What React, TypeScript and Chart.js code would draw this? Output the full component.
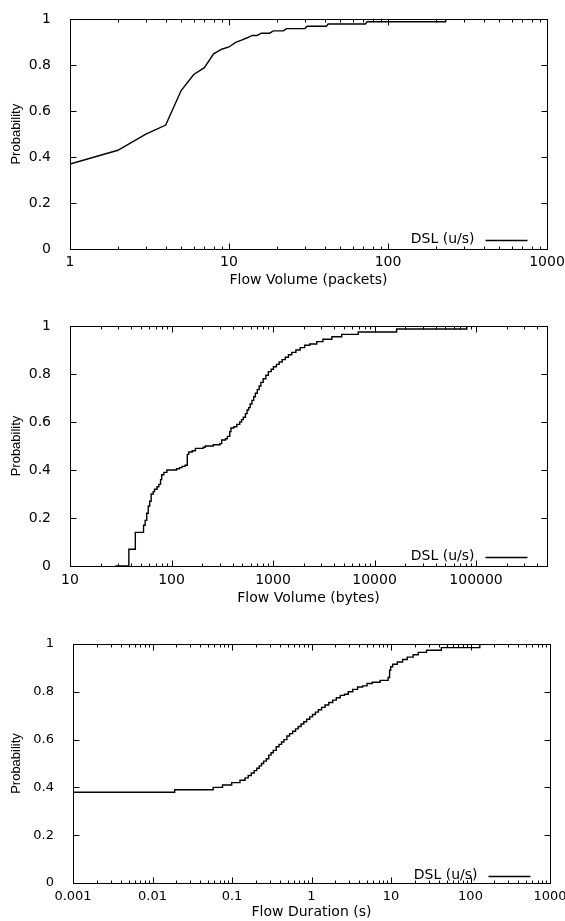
import { useEffect, useRef } from "react";
import { Chart, registerables } from "chart.js";

Chart.register(...registerables);

// ---- Flow volume in packets (upstream DSL), empirical CDF ----
const packetCounts = [1, 2, 3, 4, 5, 6, 7, 8, 9, 10, 11, 12, 13, 14, 15, 16, 18, 19, 22, 23, 30, 31, 41, 42, 72, 74, 230, 232];
const packetProb = [0.37, 0.43, 0.5, 0.54, 0.69, 0.76, 0.79, 0.85, 0.87, 0.88, 0.9, 0.91, 0.92, 0.93, 0.93, 0.94, 0.94, 0.95, 0.95, 0.96, 0.96, 0.97, 0.97, 0.98, 0.98, 0.99, 0.99, 1.0];

// ---- Flow volume in bytes, step CDF ----
const byteCounts = [28, 38, 44, 53, 55, 57, 59, 61, 63, 66, 68, 72, 75, 78, 80, 84, 90, 112, 120, 127, 136, 143, 148, 160, 172, 205, 215, 258, 300, 312, 340, 355, 375, 385, 410, 440, 470, 490, 510, 535, 555, 575, 595, 620, 645, 670, 700, 730, 760, 800, 850, 900, 960, 1010, 1080, 1150, 1230, 1320, 1420, 1530, 1680, 1850, 2050, 2300, 2700, 3100, 3800, 4750, 6900, 16500, 81000];
const byteProb = [0, 0.07, 0.14, 0.17, 0.19, 0.22, 0.25, 0.27, 0.3, 0.31, 0.32, 0.33, 0.34, 0.36, 0.38, 0.39, 0.4, 0.405, 0.41, 0.415, 0.42, 0.465, 0.475, 0.48, 0.49, 0.495, 0.5, 0.505, 0.51, 0.525, 0.53, 0.54, 0.56, 0.575, 0.58, 0.59, 0.6, 0.61, 0.62, 0.635, 0.65, 0.66, 0.675, 0.69, 0.705, 0.72, 0.735, 0.75, 0.765, 0.78, 0.795, 0.81, 0.82, 0.83, 0.84, 0.85, 0.86, 0.87, 0.88, 0.89, 0.9, 0.91, 0.92, 0.925, 0.935, 0.945, 0.955, 0.965, 0.975, 0.9875, 1.0];

// ---- Flow duration in seconds, step CDF ----
const durations = [0.001, 0.019, 0.058, 0.076, 0.099, 0.126, 0.146, 0.16, 0.175, 0.19, 0.205, 0.22, 0.235, 0.25, 0.27, 0.29, 0.31, 0.33, 0.36, 0.39, 0.42, 0.45, 0.49, 0.53, 0.58, 0.63, 0.68, 0.74, 0.8, 0.87, 0.95, 1.03, 1.12, 1.22, 1.34, 1.48, 1.65, 1.85, 2.05, 2.3, 2.6, 2.9, 3.3, 3.8, 4.4, 5.0, 5.8, 7.3, 9.2, 9.6, 9.9, 10.5, 12, 14, 16, 19, 22, 28, 43, 131];
const durationProb = [0.38, 0.39, 0.4, 0.41, 0.42, 0.43, 0.44, 0.45, 0.46, 0.47, 0.48, 0.49, 0.5, 0.51, 0.52, 0.535, 0.545, 0.555, 0.57, 0.58, 0.59, 0.6, 0.615, 0.625, 0.635, 0.645, 0.655, 0.665, 0.675, 0.685, 0.695, 0.705, 0.715, 0.725, 0.735, 0.745, 0.755, 0.765, 0.775, 0.785, 0.79, 0.8, 0.81, 0.82, 0.825, 0.835, 0.84, 0.848, 0.86, 0.89, 0.905, 0.915, 0.925, 0.935, 0.945, 0.955, 0.965, 0.974, 0.985, 1.0];

// ---- Axis tick labels ----
const packetTicks = [1, 10, 100, 1000];
const byteTicks = [10, 100, 1000, 10000, 100000];
const durationTicks = [0.001, 0.01, 0.1, 1, 10, 100, 1000];
const probTicks = [0, 0.2, 0.4, 0.6, 0.8, 1];

const seriesLabel = "DSL (u/s)";
const yTitle = "Probability";

const WIDTH = 565;
const TICK_FONT = "'DejaVu Sans', sans-serif";

// Frame with inward ticks on all four sides, plus a gnuplot-style key.
const framePlugin = {
  id: "frameKey",
  afterDatasetsDraw(chart: any, _args: any, opts: any) {
    const { ctx, chartArea: a, scales } = chart;
    const x = scales.x;
    const y = scales.y;
    const left = Math.round(a.left) + 0.5;
    const right = Math.round(a.right) + 0.5;
    const top = Math.round(a.top) + 0.5;
    const bottom = Math.round(a.bottom) + 0.5;
    ctx.save();
    ctx.strokeStyle = "#000";
    ctx.lineWidth = 1;
    ctx.beginPath();
    // log-axis ticks: long at decades, short in between
    const lo = Math.floor(Math.log10(x.min));
    const hi = Math.ceil(Math.log10(x.max));
    for (let e = lo; e <= hi; e++) {
      for (let k = 1; k <= 9; k++) {
        const v = k * Math.pow(10, e);
        if (v < x.min * 0.999 || v > x.max * 1.001) continue;
        const px = Math.round(x.getPixelForValue(v)) + 0.5;
        const len = k === 1 ? 6 : 3;
        ctx.moveTo(px, bottom);
        ctx.lineTo(px, bottom - len);
        ctx.moveTo(px, top);
        ctx.lineTo(px, top + len);
      }
    }
    for (const v of probTicks) {
      const py = Math.round(y.getPixelForValue(v)) + 0.5;
      ctx.moveTo(left, py);
      ctx.lineTo(left + 6, py);
      ctx.moveTo(right, py);
      ctx.lineTo(right - 6, py);
    }
    ctx.stroke();
    ctx.strokeRect(left, top, right - left, bottom - top);

    // key
    const ds = chart.data.datasets[0];
    const ky = bottom - (opts.keyOffset ?? 10);
    ctx.fillStyle = "#000";
    ctx.font = `14px ${TICK_FONT}`;
    ctx.textAlign = "right";
    ctx.textBaseline = "middle";
    ctx.fillText(ds.label, right - 73, ky);
    ctx.beginPath();
    ctx.lineWidth = ds.borderWidth;
    ctx.strokeStyle = ds.borderColor;
    ctx.moveTo(right - 62, Math.round(ky) + 0.5);
    ctx.lineTo(right - 20, Math.round(ky) + 0.5);
    ctx.stroke();
    ctx.restore();
  },
};

type Spec = {
  xs: number[];
  ys: number[];
  xTicks: number[];
  xMin: number;
  xMax: number;
  stepped: boolean;
  xTitle: string;
  height: number;
  plotLeft: number;
  plotRight: number;
  plotTop: number;
  plotBottom: number;
  tickSize: number;
  xLabelPad: number;
  xTitlePad: number;
  keyOffset: number;
};

function CdfPanel({ spec }: { spec: Spec }) {
  const ref = useRef<HTMLCanvasElement | null>(null);

  useEffect(() => {
    if (!ref.current) return;
    const s = spec;
    const chart = new Chart(ref.current, {
      type: "line",
      data: {
        datasets: [
          {
            label: seriesLabel,
            data: s.xs.map((v, i) => ({ x: v, y: s.ys[i] })),
            borderColor: "#000",
            borderWidth: 1.4,
            pointRadius: 0,
            tension: 0,
            stepped: s.stepped ? "before" : false,
            fill: false,
          },
        ],
      },
      options: {
        animation: false,
        responsive: false,
        devicePixelRatio: 1,
        events: [],
        layout: {
          padding: { left: 0, right: WIDTH - s.plotRight, top: s.plotTop, bottom: 0 },
        },
        plugins: {
          legend: { display: false },
          tooltip: { enabled: false },
          frameKey: { keyOffset: s.keyOffset },
        } as any,
        scales: {
          x: {
            type: "logarithmic",
            min: s.xMin,
            max: s.xMax,
            grid: { display: false },
            border: { display: false },
            afterBuildTicks: (scale: any) => {
              scale.ticks = s.xTicks.map((v) => ({ value: v }));
            },
            afterFit: (scale: any) => {
              scale.height = s.height - s.plotBottom;
              // let the outermost labels run past the plot edges
              scale.paddingLeft = 0;
              scale.paddingRight = 0;
            },
            ticks: {
              autoSkip: false,
              maxRotation: 0,
              padding: s.xLabelPad,
              color: "#000",
              font: { family: TICK_FONT, size: s.tickSize },
              callback: (v: any) => String(v),
            },
            title: {
              display: true,
              text: s.xTitle,
              color: "#000",
              font: { family: TICK_FONT, size: 14 },
              padding: { top: 0, bottom: s.xTitlePad },
            },
          },
          y: {
            type: "linear",
            min: 0,
            max: 1,
            grid: { display: false },
            border: { display: false },
            afterBuildTicks: (scale: any) => {
              scale.ticks = probTicks.map((v) => ({ value: v }));
            },
            afterFit: (scale: any) => {
              scale.width = s.plotLeft;
            },
            ticks: {
              padding: 11,
              color: "#000",
              font: { family: TICK_FONT, size: s.tickSize },
              callback: (v: any) => String(v),
            },
            title: {
              display: true,
              text: yTitle,
              color: "#000",
              font: { family: "'Liberation Sans', Arial, sans-serif", size: 13 },
              padding: { top: 9, bottom: 0 },
            },
          },
        },
      },
      plugins: [framePlugin],
    } as any);
    return () => chart.destroy();
  }, [spec]);

  return (
    <canvas
      ref={ref}
      width={WIDTH}
      height={spec.height}
      style={{ display: "block", width: WIDTH, height: spec.height }}
    />
  );
}

const panels: { top: number; spec: Spec }[] = [
  {
    top: 0,
    spec: {
      xs: packetCounts,
      ys: packetProb,
      xTicks: packetTicks,
      xMin: 1,
      xMax: 1000,
      stepped: false,
      xTitle: "Flow Volume (packets)",
      height: 300,
      plotLeft: 70,
      plotRight: 547,
      plotTop: 10,
      plotBottom: 249,
      tickSize: 14,
      xLabelPad: -3,
      xTitlePad: 11,
      keyOffset: 10,
    },
  },
  {
    top: 305,
    spec: {
      xs: byteCounts,
      ys: byteProb,
      xTicks: byteTicks,
      xMin: 10,
      xMax: 500000,
      stepped: true,
      xTitle: "Flow Volume (bytes)",
      height: 305,
      plotLeft: 70,
      plotRight: 547,
      plotTop: 21,
      plotBottom: 261,
      tickSize: 14,
      xLabelPad: -2,
      xTitlePad: 3,
      keyOffset: 10,
    },
  },
  {
    top: 615,
    spec: {
      xs: durations,
      ys: durationProb,
      xTicks: durationTicks,
      xMin: 0.001,
      xMax: 1000,
      stepped: true,
      xTitle: "Flow Duration (s)",
      height: 306,
      plotLeft: 73,
      plotRight: 550,
      plotTop: 29,
      plotBottom: 268,
      tickSize: 13,
      xLabelPad: -2,
      xTitlePad: 0,
      keyOffset: 8,
    },
  },
];

export default function App() {
  useEffect(() => {
    document.body.style.margin = "0";
    document.body.style.background = "#fff";
  }, []);
  return (
    <div style={{ position: "relative", width: WIDTH, height: 921, background: "#fff", overflow: "hidden" }}>
      {panels.map((p, i) => (
        <div key={i} style={{ position: "absolute", left: 0, top: p.top }}>
          <CdfPanel spec={p.spec} />
        </div>
      ))}
    </div>
  );
}
